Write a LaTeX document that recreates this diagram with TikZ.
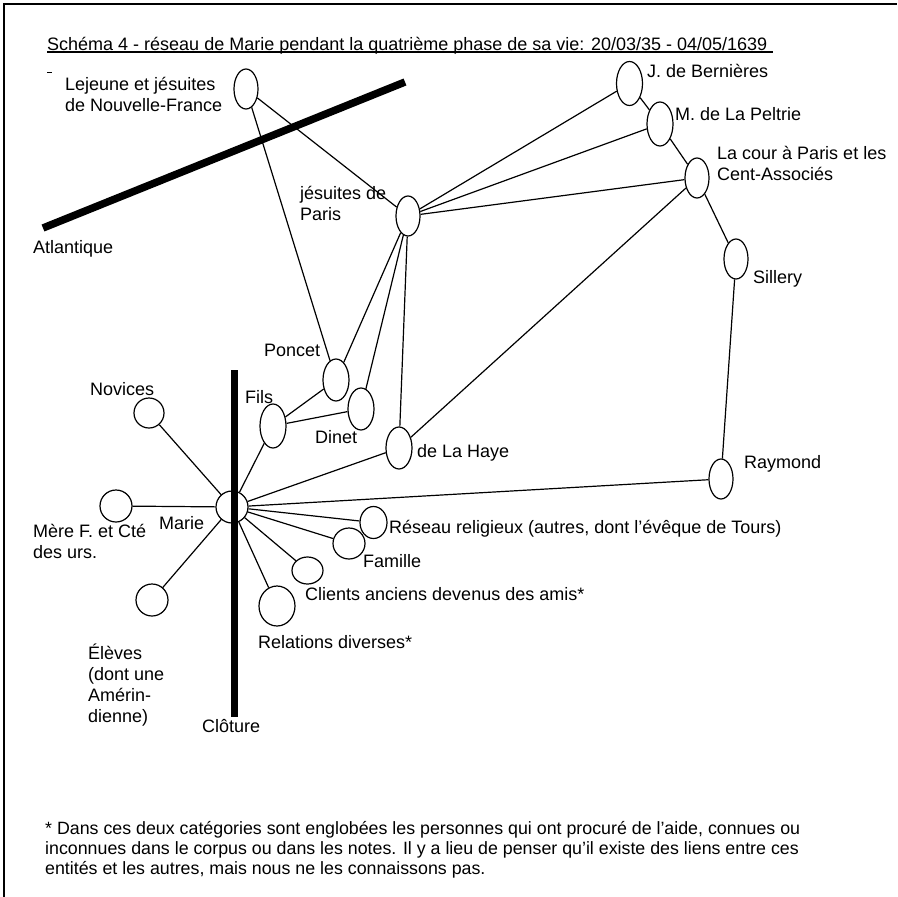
\documentclass[tikz,border=0pt]{standalone}
\usepackage{fontspec}
\setmainfont{Liberation Sans}
\usetikzlibrary{shapes.geometric}

\begin{document}
\begin{tikzpicture}[x=1pt,y=-1pt,
  pers/.style={draw, ellipse, line width=1.2pt, inner sep=0pt},
  lbl/.style={anchor=base west, inner sep=0pt, align=left, font=\fontsize{18}{20.8}\selectfont},
  link/.style={line width=1.2pt},
  bar/.style={line width=7.5pt}]
\useasboundingbox (0,0) rectangle (897,897);
\draw [line width=1.6pt] (4,897) -- (4,4) -- (897,4);

% title and footnote (base = last line)
\node [lbl] (title) at (47,50) {Schéma 4 - réseau de Marie pendant la quatrième phase de sa vie: 20/03/35 - 04/05/1639};
\draw [line width=1.1pt] ([yshift=-2pt]title.base west) -- ([yshift=-2pt,xshift=5pt]title.base east);
\draw [line width=1pt] (47,72) -- (52,72);
\node [lbl, font=\fontsize{17.8}{20}\selectfont] (note) at (45,874) {* Dans ces deux catégories sont englobées les personnes qui ont procuré de l'aide, connues ou\\inconnues dans le corpus ou dans les notes. Il y a lieu de penser qu'il existe des liens entre ces\\entités et les autres, mais nous ne les connaissons pas.};

% persons
\node [pers, minimum width=24, minimum height=40] (lejeune) at (246,89) {};
\node [pers, minimum width=24, minimum height=40] (jesParis) at (408,216) {};
\node [pers, minimum width=26, minimum height=44] (bernieres) at (629.5,83.5) {};
\node [pers, minimum width=26, minimum height=44] (peltrie) at (660,124) {};
\node [pers, minimum width=24, minimum height=40] (cour) at (697,178) {};
\node [pers, minimum width=24, minimum height=40] (sillery) at (736,259) {};
\node [pers, minimum width=26, minimum height=42] (poncet) at (336,380) {};
\node [pers, minimum width=26, minimum height=42] (dinet) at (361,409) {};
\node [pers, minimum width=26, minimum height=44] (fils) at (273,426) {};
\node [pers, minimum width=26, minimum height=42] (laHaye) at (399,448) {};
\node [pers, minimum width=24, minimum height=40] (raymond) at (721,479) {};
\node [pers, minimum width=30, minimum height=30] (novices) at (149,413) {};
\node [pers, minimum width=32, minimum height=32] (mere) at (116,506) {};
\node [pers, minimum width=32, minimum height=32] (marie) at (232,507) {};
\node [pers, minimum width=32, minimum height=32] (eleves) at (152,600) {};
\node [pers, minimum width=27, minimum height=32] (reseau) at (373.5,522.5) {};
\node [pers, minimum width=32, minimum height=31] (famille) at (349,543.5) {};
\node [pers, minimum width=31, minimum height=27] (clients) at (307.5,570.5) {};
\node [pers, minimum width=36, minimum height=40] (relations) at (277,606) {};

% labels
\node [lbl] (lLejeune) at (65,111) {Lejeune et jésuites\\de Nouvelle-France};
\node [lbl] (lJesParis) at (300,220) {jésuites de\\Paris};
\node [lbl] (lAtlantique) at (33,253) {Atlantique};
\node [lbl] (lBernieres) at (647,77) {J. de Bernières};
\node [lbl] (lPeltrie) at (675,120) {M. de La Peltrie};
\node [lbl] (lCour) at (717,180) {La cour à Paris et les\\Cent-Associés};
\node [lbl] (lSillery) at (753,283) {Sillery};
\node [lbl] (lPoncet) at (264,356) {Poncet};
\node [lbl] (lFils) at (245,403) {Fils};
\node [lbl] (lDinet) at (315,443) {Dinet};
\node [lbl] (lLaHaye) at (417,457) {de La Haye};
\node [lbl] (lRaymond) at (744,468) {Raymond};
\node [lbl] (lNovices) at (90,395) {Novices};
\node [lbl] (lMarie) at (159,529) {Marie};
\node [lbl] (lMere) at (33,558) {Mère F. et Cté\\des urs.};
\node [lbl] (lReseau) at (389,533) {Réseau religieux (autres, dont l'évêque de Tours)};
\node [lbl] (lFamille) at (363,567) {Famille};
\node [lbl] (lClients) at (305,600) {Clients anciens devenus des amis*};
\node [lbl] (lRelations) at (258,648) {Relations diverses*};
\node [lbl] (lEleves) at (88,722) {Élèves\\(dont une\\Amérin-\\dienne)};
\node [lbl] (lCloture) at (202,732) {Clôture};

% links
\draw [link] (lejeune) -- (jesParis);
\draw [link] (lejeune) -- (poncet);
\draw [link] (jesParis) -- (bernieres);
\draw [link] (jesParis) -- (peltrie);
\draw [link] (jesParis) -- (cour);
\draw [link] (jesParis) -- (poncet);
\draw [link] (jesParis) -- (dinet);
\draw [link] (jesParis) -- (laHaye);
\draw [link] (bernieres) -- (peltrie);
\draw [link] (peltrie) -- (cour);
\draw [link] (cour) -- (sillery);
\draw [link] (cour) -- (laHaye);
\draw [link] (sillery) -- (raymond);
\draw [link] (poncet) -- (fils);
\draw [link] (dinet) -- (fils);
\foreach \p in {fils,laHaye,raymond,reseau,famille,clients,relations,eleves,mere,novices}
  \draw [link] (marie) -- (\p);

% barriers
\draw [bar] (43,228) -- (405,82);
\draw [bar] (234.5,370) -- (234.5,717);
\end{tikzpicture}
\end{document}
